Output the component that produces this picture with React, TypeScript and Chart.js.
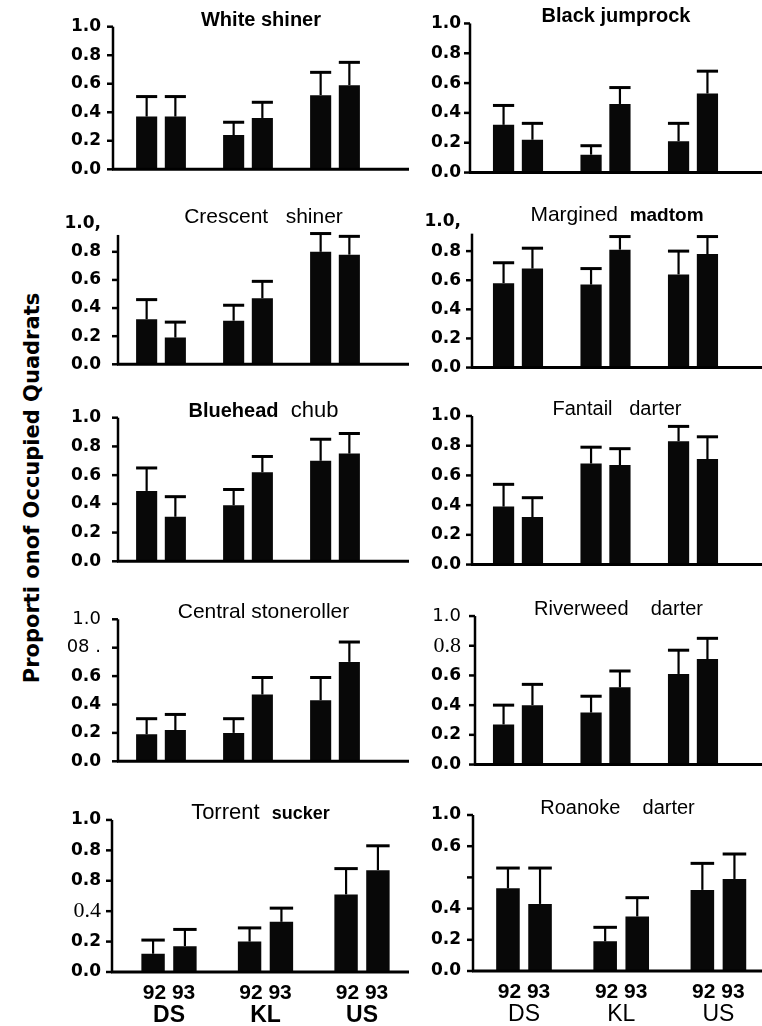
import React, { useEffect, useRef } from 'react';
import { Chart, registerables } from 'chart.js';

Chart.register(...registerables);

// ---------- DATA ----------
const sites = ['DS', 'KL', 'US'];
const years = ['92', '93'];
const yAxisTitle = 'Proporti onof Occupied Quadrats';

// order of every series: DS92, DS93, KL92, KL93, US92, US93
const whiteShinerMean = [0.37, 0.37, 0.24, 0.36, 0.52, 0.59];
const whiteShinerSE = [0.14, 0.14, 0.09, 0.11, 0.16, 0.16];
const blackJumprockMean = [0.32, 0.22, 0.12, 0.46, 0.21, 0.53];
const blackJumprockSE = [0.13, 0.11, 0.06, 0.11, 0.12, 0.15];
const crescentShinerMean = [0.32, 0.19, 0.31, 0.47, 0.8, 0.78];
const crescentShinerSE = [0.14, 0.11, 0.11, 0.12, 0.13, 0.13];
const marginedMadtomMean = [0.58, 0.68, 0.57, 0.81, 0.64, 0.78];
const marginedMadtomSE = [0.14, 0.14, 0.11, 0.09, 0.16, 0.12];
const blueheadChubMean = [0.49, 0.31, 0.39, 0.62, 0.7, 0.75];
const blueheadChubSE = [0.16, 0.14, 0.11, 0.11, 0.15, 0.14];
const fantailDarterMean = [0.39, 0.32, 0.68, 0.67, 0.83, 0.71];
const fantailDarterSE = [0.15, 0.13, 0.11, 0.11, 0.1, 0.15];
const centralStonerollerMean = [0.19, 0.22, 0.2, 0.47, 0.43, 0.7];
const centralStonerollerSE = [0.11, 0.11, 0.1, 0.12, 0.16, 0.14];
const riverweedDarterMean = [0.27, 0.4, 0.35, 0.52, 0.61, 0.71];
const riverweedDarterSE = [0.13, 0.14, 0.11, 0.11, 0.16, 0.14];
const torrentSuckerMean = [0.12, 0.17, 0.2, 0.33, 0.51, 0.67];
const torrentSuckerSE = [0.09, 0.11, 0.09, 0.09, 0.17, 0.16];
const roanokeDarterMean = [0.53, 0.43, 0.19, 0.35, 0.52, 0.59];
const roanokeDarterSE = [0.13, 0.23, 0.09, 0.12, 0.17, 0.16];

// y tick labels (bottom to top), as printed
const defaultTicks = ['0.0', '0.2', '0.4', '0.6', '0.8', '1.0'];
const commaTopTicks = ['0.0', '0.2', '0.4', '0.6', '0.8', '1.0,'];
const stonerollerTicks = ['0.0', '0.2', '0.4', '0.6', '08 .', '1.0'];
const riverweedTicks = ['0.0', '0.2', '0.4', '0.6', '0.8', '1.0'];
const torrentTicks = ['0.0', '0.2', '0.4', '0.8', '0.8', '1.0'];
const roanokeTicks = ['0.0', '0.2', '0.4', '', '0.6', '1.0'];

// ---------- STYLES ----------
const SANS = '"Liberation Sans", Arial, sans-serif';
const tickBold = { family: '"DejaVu Sans", sans-serif', size: 17, weight: 'bold' };
const tickReg = { family: '"DejaVu Sans", sans-serif', size: 18, weight: 'normal' };
const tickCommaFont = { family: '"DejaVu Sans", sans-serif', size: 17, weight: 'bold' };
const tickSerif = { family: '"Liberation Serif", serif', size: 22, weight: 'normal' };

type Seg = [string, string, number];

const panels = [
  { title: [['White shiner', 'bold', 20]] as Seg[], mean: whiteShinerMean, se: whiteShinerSE, ticks: defaultTicks, tickFonts: {} as Record<number, any>, axisTop: 1 },
  { title: [['Black jumprock', 'bold', 20]] as Seg[], mean: blackJumprockMean, se: blackJumprockSE, ticks: defaultTicks, tickFonts: {}, axisTop: 1 },
  { title: [['Crescent   shiner', 'normal', 21]] as Seg[], mean: crescentShinerMean, se: crescentShinerSE, ticks: commaTopTicks, tickFonts: { 5: tickCommaFont }, axisTop: 0.92 },
  { title: [['Margined  ', 'normal', 21], ['madtom', 'bold', 19]] as Seg[], mean: marginedMadtomMean, se: marginedMadtomSE, ticks: commaTopTicks, tickFonts: { 5: tickCommaFont }, axisTop: 0.92 },
  { title: [['Bluehead', 'bold', 20], ['  chub', 'normal', 22]] as Seg[], mean: blueheadChubMean, se: blueheadChubSE, ticks: defaultTicks, tickFonts: {}, axisTop: 1 },
  { title: [['Fantail   darter', 'normal', 20]] as Seg[], mean: fantailDarterMean, se: fantailDarterSE, ticks: defaultTicks, tickFonts: {}, axisTop: 1 },
  { title: [['Central stoneroller', 'normal', 21]] as Seg[], mean: centralStonerollerMean, se: centralStonerollerSE, ticks: stonerollerTicks, tickFonts: { 4: tickReg, 5: tickReg }, axisTop: 1 },
  { title: [['Riverweed    darter', 'normal', 20]] as Seg[], mean: riverweedDarterMean, se: riverweedDarterSE, ticks: riverweedTicks, tickFonts: { 4: tickSerif, 5: tickReg }, axisTop: 1 },
  { title: [['Torrent  ', 'normal', 22], ['sucker', 'bold', 18]] as Seg[], mean: torrentSuckerMean, se: torrentSuckerSE, ticks: torrentTicks, tickFonts: { 2: tickSerif }, axisTop: 1 },
  { title: [['Roanoke    darter', 'normal', 20]] as Seg[], mean: roanokeDarterMean, se: roanokeDarterSE, ticks: roanokeTicks, tickFonts: {}, axisTop: 1 },
];

// page-space geometry of each row (left / right column)
const canvasRows = [
  { top: 0, h: 196 },
  { top: 197, h: 194 },
  { top: 391, h: 197 },
  { top: 592, h: 196 },
  { top: 790, h: 236 },
];
const geomLeft = [
  { plotTop: 25, plotBottom: 183, axisX: 113, areaL: 117.5, areaR: 378.5 },
  { plotTop: 222, plotBottom: 380, axisX: 118, areaL: 117.5, areaR: 378.5 },
  { plotTop: 416, plotBottom: 575, axisX: 118, areaL: 117.5, areaR: 378.5 },
  { plotTop: 617, plotBottom: 774, axisX: 118, areaL: 117.5, areaR: 378.5 },
  { plotTop: 815, plotBottom: 972, axisX: 112, areaL: 120.75, areaR: 410.25 },
];
const geomRight = [
  { plotTop: 23, plotBottom: 182, axisX: 470, areaL: 474.25, areaR: 736.75 },
  { plotTop: 222, plotBottom: 378, axisX: 472, areaL: 474.25, areaR: 736.75 },
  { plotTop: 416, plotBottom: 574, axisX: 472, areaL: 474.25, areaR: 736.75 },
  { plotTop: 616, plotBottom: 773, axisX: 475, areaL: 474.25, areaR: 736.75 },
  { plotTop: 815, plotBottom: 971, axisX: 473, areaL: 475.4, areaR: 767 },
];
const colLeft = { canvasLeft: 48, canvasW: 364, axisEnd: 409, titleEnd: 409, labelRight: 101, siteWeight: 'bold' };
const colRight = { canvasLeft: 412, canvasW: 356, axisEnd: 770, titleEnd: 762, labelRight: 461, siteWeight: 'normal' };

function Panel({ index }: { index: number }) {
  const ref = useRef<HTMLCanvasElement>(null);
  const p = panels[index];
  const row = Math.floor(index / 2);
  const isLeft = index % 2 === 0;
  const col = isLeft ? colLeft : colRight;
  const g = (isLeft ? geomLeft : geomRight)[row];
  const cr = canvasRows[row];
  const bottomRow = row === 4;

  useEffect(() => {
    const cl = col.canvasLeft;
    const padTop = g.plotTop - cr.top;
    const xH = bottomRow ? 30 : 0;
    const x2H = bottomRow ? cr.top + cr.h - g.plotBottom - 30 : 0;
    const padBottom = bottomRow ? 0 : cr.top + cr.h - g.plotBottom;
    const padRight = col.canvasW - (g.areaR - cl);

    const decor = {
      id: 'decor',
      afterDatasetsDraw(chart: any) {
        const ctx = chart.ctx;
        const ys = chart.scales.y;
        const ax = g.axisX - cl;
        const ae = col.axisEnd - cl;
        ctx.save();
        ctx.strokeStyle = '#000';
        ctx.fillStyle = '#000';
        // error bars (upper only)
        chart.data.datasets.forEach((ds: any, di: number) => {
          const meta = chart.getDatasetMeta(di);
          meta.data.forEach((bar: any, i: number) => {
            const { x, y, width } = bar.getProps(['x', 'y', 'width'], true);
            const top = ys.getPixelForValue(ds.data[i] + ds.errors[i]);
            ctx.lineWidth = 2.2;
            ctx.beginPath();
            ctx.moveTo(x, y);
            ctx.lineTo(x, top);
            ctx.stroke();
            ctx.lineWidth = 3;
            ctx.beginPath();
            ctx.moveTo(x - width / 2, top);
            ctx.lineTo(x + width / 2, top);
            ctx.stroke();
          });
        });
        // axes
        const y0 = ys.getPixelForValue(0);
        const yTop = ys.getPixelForValue(p.axisTop);
        ctx.lineWidth = 2.5;
        ctx.beginPath();
        ctx.moveTo(ax, yTop);
        ctx.lineTo(ax, y0);
        ctx.stroke();
        ctx.lineWidth = 3;
        ctx.beginPath();
        ctx.moveTo(ax - 1, y0);
        ctx.lineTo(ae, y0);
        ctx.stroke();
        ctx.lineWidth = 2.5;
        ys.ticks.forEach((t: any) => {
          if (t.value > p.axisTop + 1e-6) return;
          const ty = ys.getPixelForValue(t.value);
          ctx.beginPath();
          ctx.moveTo(ax - 6, ty);
          ctx.lineTo(ax, ty);
          ctx.stroke();
        });
        // title, centred over the x-axis line
        let total = 0;
        p.title.forEach(([t, w, s]) => {
          ctx.font = `${w} ${s}px ${SANS}`;
          total += ctx.measureText(t).width;
        });
        let tx = (ax + (col.titleEnd - cl)) / 2 - total / 2;
        ctx.textBaseline = 'alphabetic';
        ctx.textAlign = 'left';
        const by = chart.chartArea.top - 1;
        p.title.forEach(([t, w, s]) => {
          ctx.font = `${w} ${s}px ${SANS}`;
          ctx.fillText(t, tx, by);
          tx += ctx.measureText(t).width;
        });
        ctx.restore();
      },
    };

    const pick = (arr: number[], parity: number) => sites.map((_, k) => arr[k * 2 + parity]);

    const scales: any = {
      x: {
        type: 'category',
        offset: true,
        weight: 0,
        grid: { display: false, drawTicks: false },
        border: { display: false },
        ticks: {
          display: bottomRow,
          autoSkip: false,
          maxRotation: 0,
          padding: 9,
          color: '#000',
          font: { family: SANS, size: 21, weight: 'bold' },
          callback: () => years.join(' '),
        },
        afterFit: (s: any) => {
          s.height = xH;
        },
      },
      y: {
        type: 'linear',
        min: 0,
        max: 1,
        grid: { display: false, drawTicks: false },
        border: { display: false },
        ticks: {
          stepSize: 0.2,
          autoSkip: false,
          padding: g.areaL - col.labelRight,
          color: '#000',
          font: (c: any) => (p.tickFonts as any)[c.index] || tickBold,
          callback: (_v: any, i: number) => p.ticks[i],
        },
        afterFit: (s: any) => {
          s.width = g.areaL - cl;
        },
      },
    };
    if (bottomRow) {
      scales.x2 = {
        type: 'category',
        labels: sites,
        position: 'bottom',
        offset: true,
        weight: 1,
        grid: { display: false, drawTicks: false },
        border: { display: false },
        ticks: {
          autoSkip: false,
          maxRotation: 0,
          padding: 0,
          color: '#000',
          font: { family: SANS, size: 23, weight: col.siteWeight },
        },
        afterFit: (s: any) => {
          s.height = x2H;
        },
      };
    }

    const chart = new Chart(ref.current as HTMLCanvasElement, {
      type: 'bar',
      data: {
        labels: sites,
        datasets: years.map((yr, parity) => ({
          label: yr,
          data: pick(p.mean, parity),
          errors: pick(p.se, parity),
          backgroundColor: '#080808',
          borderWidth: 0,
          categoryPercentage: 0.66,
          barPercentage: 0.735,
        })) as any,
      },
      options: {
        responsive: false,
        animation: false,
        devicePixelRatio: 1,
        layout: { padding: { top: padTop, bottom: padBottom, left: 0, right: padRight } },
        plugins: { legend: { display: false }, tooltip: { enabled: false }, title: { display: false } },
        scales,
      },
      plugins: [decor],
    });
    return () => chart.destroy();
  }, []);

  return (
    <canvas
      ref={ref}
      width={col.canvasW}
      height={cr.h}
      style={{ position: 'absolute', left: col.canvasLeft, top: cr.top, width: col.canvasW, height: cr.h }}
    />
  );
}

export default function App() {
  return (
    <div
      style={{
        position: 'absolute',
        left: 0,
        top: 0,
        width: 762,
        height: 1026,
        overflow: 'hidden',
        background: '#fff',
      }}
    >
      <div
        style={{
          position: 'absolute',
          left: 32,
          top: 488,
          transform: 'translate(-50%, -50%) rotate(-90deg)',
          font: 'bold 21px "DejaVu Sans", sans-serif',
          whiteSpace: 'nowrap',
          color: '#000',
        }}
      >
        {yAxisTitle}
      </div>
      {panels.map((_, i) => (
        <Panel key={i} index={i} />
      ))}
    </div>
  );
}
